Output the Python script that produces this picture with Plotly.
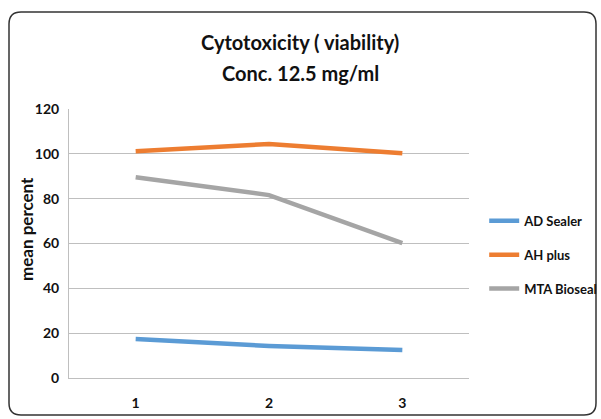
import plotly.graph_objects as go

categories = ["1", "2", "3"]
ad_sealer = [17.4, 14.3, 12.5]
ah_plus = [101.2, 104.4, 100.3]
mta_bioseal = [89.6, 81.6, 60.2]
series_names = ["AD Sealer", "AH plus", "MTA Bioseal"]
colors = ["#5B9BD5", "#ED7D31", "#A5A5A5"]
title_lines = ["Cytotoxicity ( viability)", "Conc. 12.5 mg/ml"]
y_title = "mean percent"

FONT = "Lato, Open Sans, Arial"

fig = go.Figure()
for i, (name, vals) in enumerate(zip(series_names, [ad_sealer, ah_plus, mta_bioseal])):
    fig.add_trace(go.Scatter(x=categories, y=vals, mode="lines", name=f"<b>{name}</b>",
                             legendgroup=f"g{i}",
                             line=dict(color=colors[i], width=4.5)))

L, R, T, B = 69, 132, 109, 41
W, H = 601, 419
pw, ph = W - L - R, H - T - B

def px(x):
    return (x - L) / pw

def py(y):
    return (H - B - y) / ph

x0, x1, y0, y1 = 9, 596, 12, 415
r = 12
path = (f"M {px(x0 + r)},{py(y0)} L {px(x1 - r)},{py(y0)} "
        f"Q {px(x1)},{py(y0)} {px(x1)},{py(y0 + r)} "
        f"L {px(x1)},{py(y1 - r)} Q {px(x1)},{py(y1)} {px(x1 - r)},{py(y1)} "
        f"L {px(x0 + r)},{py(y1)} Q {px(x0)},{py(y1)} {px(x0)},{py(y1 - r)} "
        f"L {px(x0)},{py(y0 + r)} Q {px(x0)},{py(y0)} {px(x0 + r)},{py(y0)} Z")
fig.add_shape(type="path", path=path, xref="paper", yref="paper",
              line=dict(color="#333333", width=1.5), layer="below")

for txt, yc in zip(title_lines, [42, 73]):
    fig.add_annotation(text=f"<b>{txt}</b>", xref="paper", yref="paper",
                       x=px(300), y=py(yc), xanchor="center", yanchor="middle",
                       showarrow=False, font=dict(family=FONT, size=20, color="#111111"))

fig.add_annotation(text=f"<b>{y_title}</b>", xref="paper", yref="paper",
                   x=px(26), y=py(229), xanchor="center", yanchor="middle",
                   textangle=-90, showarrow=False,
                   font=dict(family=FONT, size=17, color="#111111"))

fig.update_layout(
    width=W, height=H,
    margin=dict(l=L, r=R, t=T, b=B, autoexpand=False),
    paper_bgcolor="white", plot_bgcolor="white",
    font=dict(family=FONT, color="#111111"),
    xaxis=dict(type="category", range=[-0.5, 2.5], showgrid=False, showline=True,
               linecolor="#BFBFBF", linewidth=1, ticks="",
               tickfont=dict(size=14, family=FONT), ticklabelstandoff=12),
    yaxis=dict(range=[0, 120], dtick=20, showgrid=True, gridcolor="#BFBFBF",
               gridwidth=1, showline=True, linecolor="#BFBFBF", linewidth=1,
               zeroline=False, ticks="", tickfont=dict(size=14, family=FONT),
               ticklabelstandoff=6),
    legend=dict(x=1.038, y=0.64, xanchor="left", yanchor="top",
                traceorder="grouped", tracegroupgap=14,
                font=dict(size=13, family=FONT, color="#111111"),
                bgcolor="rgba(0,0,0,0)"),
)
fig.update_xaxes(tickprefix="<b>", ticksuffix="</b>")
fig.update_yaxes(tickprefix="<b>", ticksuffix="</b>")

fig.write_html("out.html")
